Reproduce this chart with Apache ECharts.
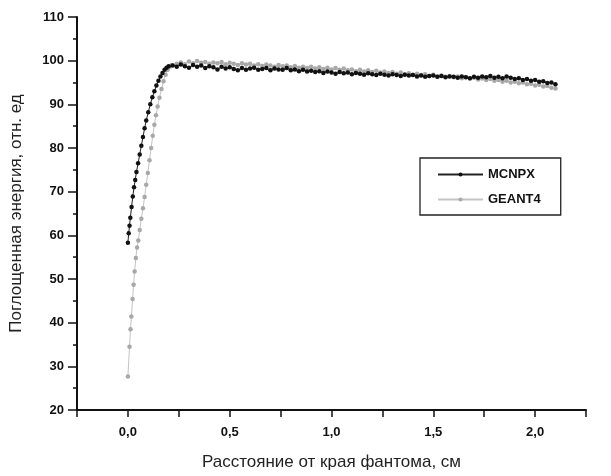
<!DOCTYPE html>
<html>
<head>
<meta charset="utf-8">
<script src="https://cdn.jsdelivr.net/npm/echarts@6/dist/echarts.min.js"></script>
<style>
html,body{margin:0;padding:0;background:#fff;}
#chart{width:611px;height:476px;}
</style>
</head>
<body>
<div id="chart"></div>
<script>
// Series names
const seriesNames = ['MCNPX', 'GEANT4'];

// MCNPX: distance (cm) and absorbed energy (rel. units)
const mcnpxX = [0, 0.004, 0.008, 0.012, 0.018, 0.024, 0.030, 0.036, 0.042, 0.050, 0.058, 0.066, 0.074, 0.082, 0.090, 0.100, 0.110, 0.120, 0.130, 0.140, 0.150, 0.160, 0.170, 0.180, 0.190, 0.200,
  0.22, 0.24, 0.26, 0.28, 0.30, 0.32, 0.34, 0.36, 0.38, 0.40, 0.42, 0.44, 0.46, 0.48, 0.50, 0.52, 0.54, 0.56, 0.58, 0.60,
  0.62, 0.64, 0.66, 0.68, 0.70, 0.72, 0.74, 0.76, 0.78, 0.80, 0.82, 0.84, 0.86, 0.88, 0.90, 0.92, 0.94, 0.96, 0.98, 1.00,
  1.02, 1.04, 1.06, 1.08, 1.10, 1.12, 1.14, 1.16, 1.18, 1.20, 1.22, 1.24, 1.26, 1.28, 1.30, 1.32, 1.34, 1.36, 1.38, 1.40,
  1.42, 1.44, 1.46, 1.48, 1.50, 1.52, 1.54, 1.56, 1.58, 1.60, 1.62, 1.64, 1.66, 1.68, 1.70, 1.72, 1.74, 1.76, 1.78, 1.80,
  1.82, 1.84, 1.86, 1.88, 1.90, 1.92, 1.94, 1.96, 1.98, 2.00, 2.02, 2.04, 2.06, 2.08, 2.10];
const mcnpxY = [58.3, 60.5, 62.2, 64.0, 66.5, 68.9, 71.0, 72.7, 74.5, 76.5, 78.5, 80.5, 82.5, 84.5, 86.3, 88.2, 90.0, 91.6, 93.0, 94.3, 95.4, 96.4, 97.2, 97.9, 98.4, 98.7,
  98.9, 98.6, 99.1, 98.7, 98.4, 99.0, 98.6, 98.9, 98.3, 98.7, 98.5, 98.0, 98.6, 98.2, 98.5, 98.1, 97.8, 98.3, 97.9, 98.2,
  98.4, 97.9, 98.1, 98.3, 97.8, 98.2, 98.0, 97.9, 98.3, 97.8, 98.0, 97.6, 97.9, 97.5, 97.7, 97.4, 97.6, 97.2, 97.5, 97.3,
  97.0, 97.4, 97.1, 97.3, 96.9, 97.2, 97.0, 96.8, 97.1, 96.9, 96.7, 97.0, 96.8, 96.6, 96.9, 96.7, 96.5, 96.8, 96.6, 96.7,
  96.4, 96.6, 96.3, 96.5, 96.6, 96.3, 96.5, 96.2, 96.4, 96.3, 96.1, 96.4, 96.2, 96.0, 96.3, 96.1, 96.4, 96.2, 96.5, 96.1,
  96.3, 96.0, 96.4, 96.1, 95.8, 96.0, 95.6, 95.8, 95.4, 95.6, 95.2, 95.3, 94.9, 95.0, 94.6];

// GEANT4: distance (cm) and absorbed energy (rel. units)
const geantX = [0, 0.008, 0.013, 0.017, 0.023, 0.028, 0.033, 0.039, 0.045, 0.051, 0.058, 0.066, 0.074, 0.082, 0.090, 0.098, 0.106, 0.114, 0.122, 0.130, 0.138, 0.146, 0.155, 0.165, 0.175, 0.185, 0.195, 0.205, 0.215,
  0.24, 0.26, 0.28, 0.30, 0.32, 0.34, 0.36, 0.38, 0.40, 0.42, 0.44, 0.46, 0.48, 0.50, 0.52, 0.54, 0.56, 0.58, 0.60,
  0.62, 0.64, 0.66, 0.68, 0.70, 0.72, 0.74, 0.76, 0.78, 0.80, 0.82, 0.84, 0.86, 0.88, 0.90, 0.92, 0.94, 0.96, 0.98, 1.00,
  1.02, 1.04, 1.06, 1.08, 1.10, 1.12, 1.14, 1.16, 1.18, 1.20, 1.22, 1.24, 1.26, 1.28, 1.30, 1.32, 1.34, 1.36, 1.38, 1.40,
  1.42, 1.44, 1.46, 1.48, 1.50, 1.52, 1.54, 1.56, 1.58, 1.60, 1.62, 1.64, 1.66, 1.68, 1.70, 1.72, 1.74, 1.76, 1.78, 1.80,
  1.82, 1.84, 1.86, 1.88, 1.90, 1.92, 1.94, 1.96, 1.98, 2.00, 2.02, 2.04, 2.06, 2.08, 2.10];
const geantY = [27.7, 34.5, 38.5, 41.4, 45.4, 48.7, 51.7, 54.8, 57.2, 58.8, 61.2, 63.8, 66.2, 68.8, 71.6, 74.3, 77.2, 80.0, 82.8, 85.3, 87.5, 89.5, 91.5, 93.5, 95.3, 96.8, 97.9, 98.6, 99.0,
  99.3, 99.6, 99.2, 99.8, 99.4, 99.9, 99.5, 99.7, 99.3, 99.6, 99.4, 99.7, 99.2, 99.5, 99.3, 99.0, 99.4, 99.1, 99.3,
  98.9, 99.2, 98.8, 99.1, 98.9, 98.6, 99.0, 98.7, 98.9, 98.5, 98.8, 98.4, 98.6, 98.3, 98.6, 98.2, 98.5, 98.1, 98.4, 98.0,
  98.3, 97.9, 98.2, 97.8, 98.0, 97.6, 97.9, 97.5, 97.8, 97.4, 97.7, 97.3, 97.5, 97.2, 97.4, 97.0, 97.3, 96.9, 97.1, 96.8,
  97.0, 96.7, 96.9, 96.5, 96.8, 96.4, 96.6, 96.3, 96.5, 96.2, 96.4, 96.0, 96.2, 95.9, 96.1, 95.7, 95.9, 95.6, 95.8, 95.4,
  95.6, 95.2, 95.4, 95.0, 95.2, 94.8, 95.0, 94.6, 94.7, 94.3, 94.5, 94.1, 94.2, 93.8, 93.6];

// Axis settings / labels
const xAxisTitle = 'Расстояние от края фантома, см';
const yAxisTitle = 'Поглощенная энергия, отн. ед';
const xRange = [-0.25, 2.25];
const yRange = [20, 110];

function pairs(xs, ys) { return xs.map((x, i) => [x, ys[i]]); }

const chart = echarts.init(document.getElementById('chart'), null, {renderer: 'canvas'});
const font = '"Liberation Sans", Arial, sans-serif';

chart.setOption({
  animation: false,
  backgroundColor: '#fff',
  grid: {left: 77, right: 25, top: 17, bottom: 65.5, containLabel: false},
  xAxis: {
    type: 'value', min: xRange[0], max: xRange[1], interval: 0.25,
    name: xAxisTitle, nameLocation: 'middle', nameGap: 44,
    nameTextStyle: {fontFamily: font, fontSize: 17, color: '#222'},
    axisLine: {show: true, onZero: false, lineStyle: {color: '#111', width: 2}},
    axisTick: {show: true, inside: false, length: 7, lineStyle: {color: '#111', width: 1.5}},
    axisLabel: {
      fontFamily: font, fontSize: 13, fontWeight: 'bold', color: '#111', margin: 16,
      formatter: v => {
        const r = Math.round(v * 100);
        if (r >= 0 && r % 50 === 0) return (r / 100).toFixed(1).replace('.', ',');
        return '';
      }
    },
    splitLine: {show: false}
  },
  yAxis: {
    type: 'value', min: yRange[0], max: yRange[1], interval: 10,
    name: yAxisTitle, nameLocation: 'middle', nameGap: 52, nameRotate: 90,
    nameTextStyle: {fontFamily: font, fontSize: 17, color: '#222'},
    axisLine: {show: true, onZero: false, lineStyle: {color: '#111', width: 2}},
    axisTick: {show: true, inside: false, length: 9, lineStyle: {color: '#111', width: 1.5}},
    minorTick: {show: true, splitNumber: 2, length: 4, lineStyle: {color: '#111', width: 1.5}},
    axisLabel: {fontFamily: font, fontSize: 13, fontWeight: 'bold', color: '#111', margin: 13},
    splitLine: {show: false}
  },
  legend: {
    show: true, orient: 'vertical', left: 420, top: 158,
    padding: [9, 20, 8, 17], itemWidth: 45, itemHeight: 5, itemGap: 10,
    backgroundColor: '#fff', borderColor: '#222', borderWidth: 1.3,
    textStyle: {fontFamily: font, fontSize: 13, fontWeight: 'bold', color: '#111', lineHeight: 15},
    data: seriesNames
  },
  series: [
    {
      name: seriesNames[1], type: 'line', data: pairs(geantX, geantY),
      symbol: 'circle', symbolSize: 4.5, showSymbol: true,
      lineStyle: {color: '#c4c4c4', width: 1},
      itemStyle: {color: '#a8a8a8'}, z: 2
    },
    {
      name: seriesNames[0], type: 'line', data: pairs(mcnpxX, mcnpxY),
      symbol: 'circle', symbolSize: 4.5, showSymbol: true,
      lineStyle: {color: '#222', width: 1},
      itemStyle: {color: '#111'}, z: 3
    }
  ]
});
</script>
</body>
</html>
